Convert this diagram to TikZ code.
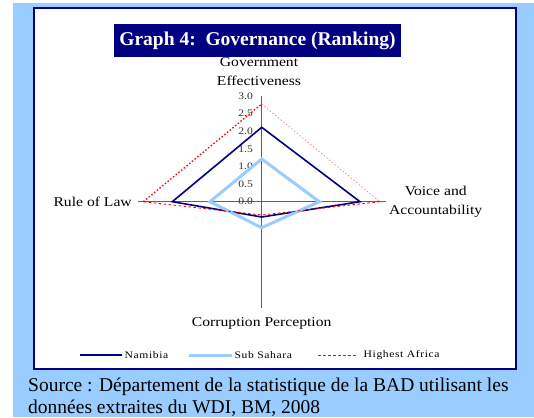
\documentclass[tikz,border=0pt]{standalone}
\usepackage{fontspec}
\setmainfont{Liberation Serif}
\newfontfamily\chartfont[FakeStretch=1.16]{Liberation Serif}
\newfontfamily\legfont[FakeStretch=1.16,LetterSpace=6]{Liberation Serif}
\definecolor{bgblue}{HTML}{99CCFF}
\definecolor{navy}{HTML}{000080}
\definecolor{axblu}{rgb}{0.3,0.3,1}
\tikzset{
  framebox/.style={draw=navy, line width=1.6pt, fill=white, inner sep=0pt, minimum width=482pt, minimum height=361pt, anchor=north west},
  titlebox/.style={fill=navy, text=white, font=\bfseries\fontsize{19.5}{22}\selectfont, inner sep=0pt, minimum width=287pt, minimum height=33pt},
  chartaxis/.style={draw=axblu, line width=1.3pt},
  namline/.style={draw=navy, line width=1.6pt, line join=miter},
  subline/.style={draw=bgblue, line width=3pt, line join=miter},
  hiline/.style={draw=red, line width=0.9pt, dash pattern=on 2.5pt off 2.5pt},
  hidot/.style={draw=red, line width=1.3pt, dash pattern=on 1.5pt off 2pt},
  hithin/.style={draw=red!55, line width=0.6pt, dash pattern=on 1.5pt off 2pt},
  ticklab/.style={font=\chartfont\fontsize{10}{12}\selectfont, text=black!80, inner sep=0pt, anchor=east},
  axlab/.style={font=\chartfont\fontsize{13.5}{19}\selectfont, inner sep=0pt, align=center},
  leglab/.style={font=\legfont\fontsize{10}{12}\selectfont, inner sep=0pt, anchor=west},
  srclab/.style={font=\fontsize{19.5}{22}\selectfont, inner sep=0pt, anchor=base west},
}
\begin{document}
\begin{tikzpicture}[x=1pt,y=-1pt]
\useasboundingbox (0,0) rectangle (534,417);
\fill[white] (0,0) rectangle (534,417);
\fill[bgblue] (13,3) rectangle (534,417);
\node[framebox] (frame) at (33,7) {};
\node[titlebox] (title) at (257.5,40.5) {Graph 4:\ \ Governance (Ranking)};

% axes drawn as thin filled bars
\coordinate (axT) at (261.7,96);
\coordinate (axB) at (261.7,307.7);
\coordinate (axL) at (138,201.7);
\coordinate (axR) at (386,201.7);
\fill[axblu] ([xshift=-0.65pt]axT) rectangle ([xshift=0.65pt]axB);
\fill[axblu] ([yshift=-0.65pt]axL) rectangle ([yshift=0.65pt]axR);

% tick labels
\foreach \v [count=\i from 0] in {0.0,0.5,1.0,1.5,2.0,2.5,3.0}
  \node[ticklab] (tick\i) at (253,201.7-\i*17.62) {\v};

% axis labels
\node[axlab] (gov) at (259,71.5) {Government\\Effectiveness};
\node[axlab] (voice) at (435.7,202.2) {Voice and\\Accountability};
\node[axlab, anchor=east] (rule) at (132,202) {Rule of Law};
\node[axlab] (corr) at (261.7,323.3) {Corruption Perception};

% data points
\coordinate (nT) at (261.7,127.3);
\coordinate (nR) at (360,201.7);
\coordinate (nB) at (261.7,217);
\coordinate (nL) at (172.3,201.7);
\coordinate (sT) at (261.7,159);
\coordinate (sR) at (319.3,201.7);
\coordinate (sB) at (261.7,227.7);
\coordinate (sL) at (210,201.7);
\coordinate (hT) at (261.7,104);
\coordinate (hR) at (379.8,201.7);
\coordinate (hB) at (261.7,215);
\coordinate (hL) at (143.3,201.7);

\draw[namline] (nT) -- (nR) -- (nB) -- (nL) -- cycle;
\draw[subline] (sT) -- (sR) -- (sB) -- (sL) -- cycle;
\draw[hithin] (hT) -- (hR);
\draw[hiline] (hR) -- (hB) -- (hL);
\draw[hidot] (hL) -- (hT);

% legend
\coordinate (l1a) at (80,355); \coordinate (l1b) at (122,355);
\coordinate (l2a) at (189,355); \coordinate (l2b) at (232,355);
\coordinate (l3a) at (318,355); \coordinate (l3b) at (358,355);
\draw[namline] (l1a) -- (l1b);
\draw[subline] (l2a) -- (l2b);
\draw[draw=red, line width=0.7pt, dash pattern=on 2.5pt off 2.5pt] (l3a) -- (l3b);
\node[leglab] (leg1) at (124.5,355) {Namibia};
\node[leglab] (leg2) at (234.5,355) {Sub Sahara};
\node[leglab] (leg3) at (363.5,355) {Highest Africa};

% source
\node[srclab] (src1) at (28,391) {Source : Département de la statistique de la BAD utilisant les};
\node[srclab] (src2) at (28,413) {données extraites du WDI, BM, 2008};
\end{tikzpicture}
\end{document}
